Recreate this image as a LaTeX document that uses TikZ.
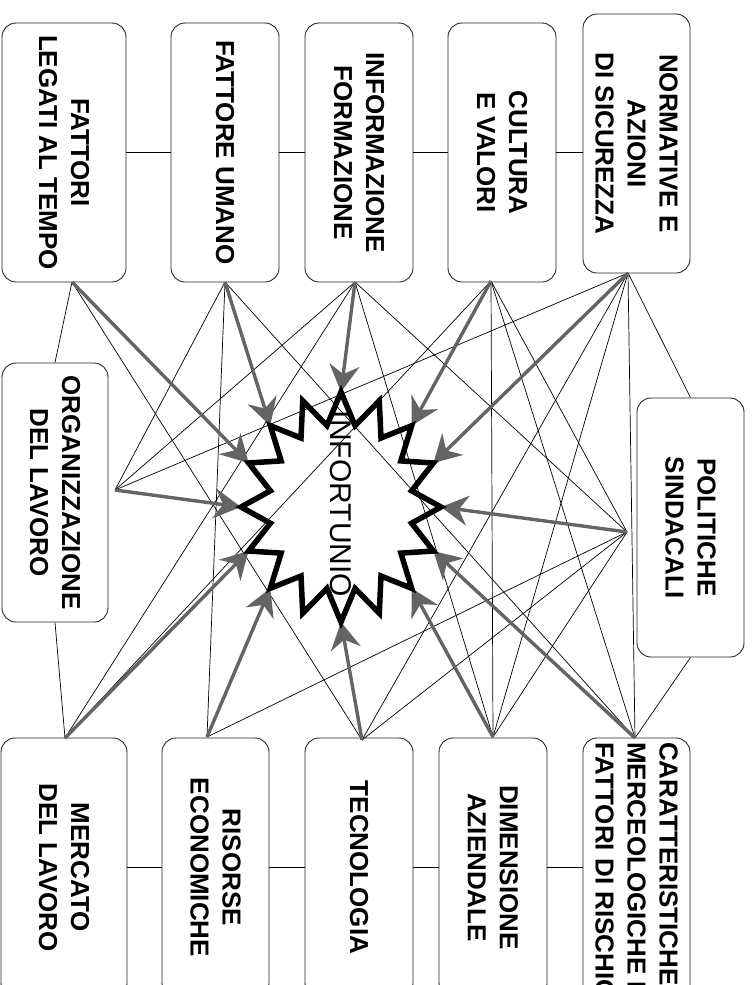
\documentclass[tikz,border=0pt]{standalone}
\usepackage{fontspec}
\setmainfont{Liberation Sans}
\usetikzlibrary{arrows.meta}
\definecolor{flowgray}{RGB}{100,100,100}

\begin{document}
\begin{tikzpicture}[x=1pt, y=-1pt, every edge/.style={draw,solid},
                    factor/.style={draw=black!85, line width=0.9pt, fill=white, rounded corners=14pt,
                                   rotate=-90, minimum width=259pt, minimum height=108pt, inner sep=2pt,
                                   align=center, font=\bfseries\fontsize{26}{32}\selectfont},
                    wire/.style={black, line width=0.7pt},
                    flow/.style={color=flowgray, line width=3.4pt},
                    burst/.style={black, line width=5.5pt},
                    >={Stealth[length=27pt,width=30pt,inset=9pt]}]

\useasboundingbox (0,0) rectangle (753,985);
\clip (0,0) rectangle (753,985);

% fattori
\node[factor, minimum height=124pt] (tempo) at (64,152.5) {FATTORI\\LEGATI AL TEMPO};
\node[factor] (umano) at (225,152.5) {FATTORE UMANO};
\node[factor] (info) at (359,152.5) {INFORMAZIONE\\FORMAZIONE};
\node[factor] (cultura) at (502,152.5) {CULTURA\\E VALORI};
\node[factor, minimum height=107pt] (norme) at (636.5,143.5) {NORMATIVE E\\AZIONI\\DI SICUREZZA};
\node[factor, minimum height=106pt] (org) at (55,492.5) {ORGANIZZAZIONE\\DEL LAVORO};
\node[factor, minimum height=107pt] (pol) at (690.5,527.5) {POLITICHE\\SINDACALI};
\node[factor, minimum height=126pt] (merc) at (64,867.5) {MERCATO\\DEL LAVORO};
\node[factor, minimum height=107pt] (risorse) at (215.5,867.5) {RISORSE\\ECONOMICHE};
\node[factor] (tecno) at (359,867.5) {TECNOLOGIA};
\node[factor] (dim) at (493,867.5) {DIMENSIONE\\AZIENDALE};
\node[factor, minimum width=266pt, minimum height=107pt, align=left] (caratt) at (636.5,871)
  {CARATTERISTICHE\\MERCEOLOGICHE E\\FATTORI DI RISCHIO};

\coordinate (a-tempo) at (72,282);
\coordinate (a-umano) at (225,282);
\coordinate (a-info) at (355,282);
\coordinate (a-cultura) at (491,281);
\coordinate (a-norme) at (628,273);
\coordinate (a-org) at (115,490);
\coordinate (a-pol) at (627,532);
\coordinate (a-merc) at (65,738);
\coordinate (a-risorse) at (207,737);
\coordinate (a-tecno) at (362,740);
\coordinate (a-dim) at (493,737);
\coordinate (a-caratt) at (635,738);

\foreach \k in {0,...,15}
  \coordinate (o\k) at ({341+100*sin(\k*22.5)},{507-115*cos(\k*22.5)});

\path[wire]
(tempo.north) edge (umano.south)
(umano.north) edge (info.south)
(info.north) edge (cultura.south)
(cultura.north) edge (cultura.north -| norme.south)
(merc.north) edge (risorse.south)
(risorse.north) edge (tecno.south)
(tecno.north) edge (dim.south)
(dim.north) edge (dim.north -| caratt.south)
(a-tempo) edge (org.west)
(org.east) edge (a-merc)
(a-norme) edge (pol.west)
(pol.east) edge (a-caratt)
(a-tempo) edge (a-tecno)
(a-umano) edge (a-org)
(a-umano) edge (a-risorse)
(a-umano) edge (a-caratt)
(a-info) edge (a-org)
(a-info) edge (a-merc)
(a-info) edge (a-dim)
(a-info) edge (a-pol)
(a-cultura) edge (a-merc)
(a-cultura) edge (a-dim)
(a-cultura) edge (a-caratt)
(a-cultura) edge (a-pol)
(a-norme) edge (a-org)
(a-norme) edge (a-tecno)
(a-norme) edge (a-dim)
(a-norme) edge (a-caratt)
(a-pol) edge (a-dim)
(a-pol) edge (a-tecno)
(a-pol) edge (a-risorse);

\path[flow, ->]
(a-tempo) edge (o13)
(a-umano) edge (o14)
(a-info) edge (o0)
(a-cultura) edge (o2)
(a-norme) edge (o3)
(a-pol) edge (o4)
(a-caratt) edge (o5)
(a-dim) edge (o6)
(a-tecno) edge (o8)
(a-risorse) edge (o10)
(a-merc) edge (o11)
(a-org) edge (o12);

\draw[burst] (o0) \foreach \k in {0,...,15}
  { -- ({341+72*sin(\k*22.5+11.25)},{507-83*cos(\k*22.5+11.25)})
    -- ({341+100*sin((\k+1)*22.5)},{507-115*cos((\k+1)*22.5)}) } -- cycle;

\node[rotate=-90, font=\fontsize{30}{36}\selectfont] (infortunio) at (341,504) {INFORTUNIO};
\end{tikzpicture}
\end{document}
